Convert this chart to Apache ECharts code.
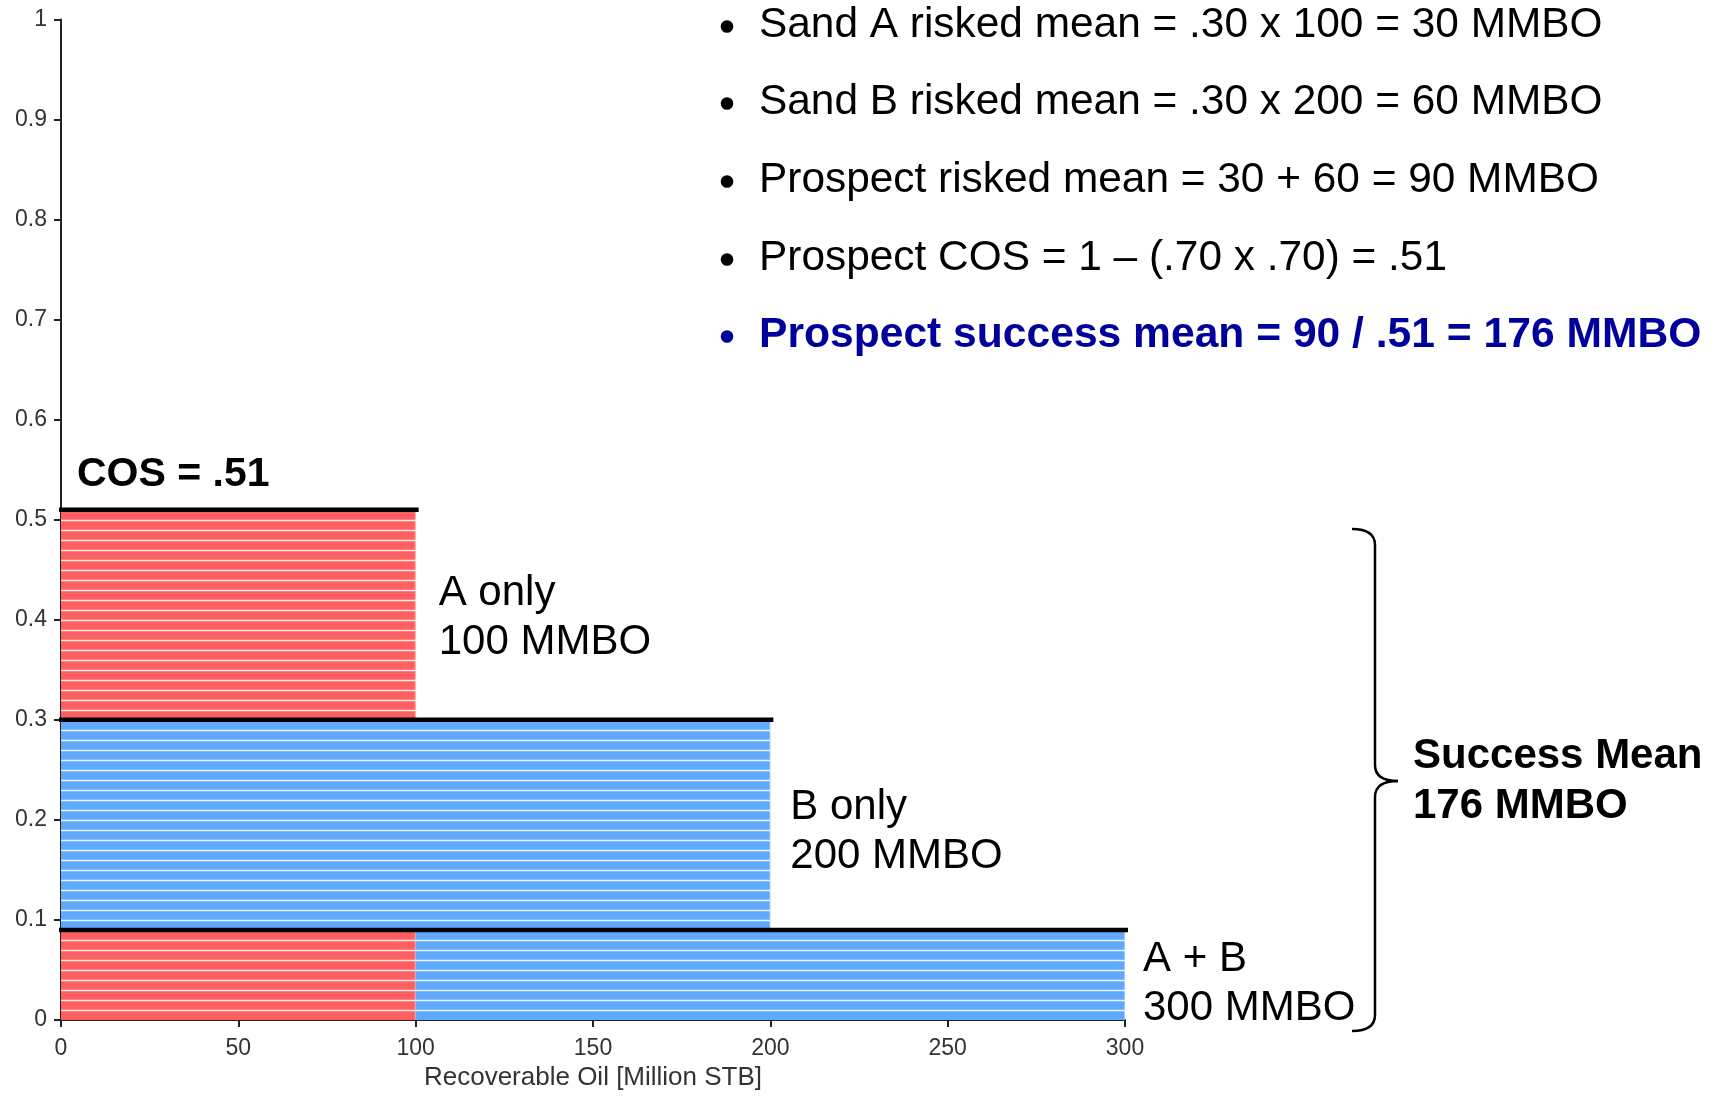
<!DOCTYPE html>
<html><head><meta charset="utf-8">
<script src="https://cdn.jsdelivr.net/npm/echarts@6/dist/echarts.min.js"></script>
<style>html,body{margin:0;padding:0;background:#fff}#c{width:1719px;height:1096px}</style>
</head><body><div id="c"></div>
<script>
// ---- data ----
const xAxisMin = 0, xAxisMax = 300, xAxisInterval = 50;
const yAxisMin = 0, yAxisMax = 1, yAxisInterval = 0.1;
const xAxisTitle = 'Recoverable Oil [Million STB]';

// colored segments (which sand contributes the volume)
const segSand   = ['A', 'B', 'A', 'B'];
const segXStart = [0, 0, 0, 100];
const segXEnd   = [100, 200, 100, 300];
const segYLow   = [0.30, 0.09, 0, 0];
const segYHigh  = [0.51, 0.30, 0.09, 0.09];

// outcomes
const outcomes          = ['A only', 'B only', 'A + B'];
const outcomeVolume     = [100, 200, 300];
const outcomeProbTop    = [0.51, 0.30, 0.09];
const outcomeProbBottom = [0.30, 0.09, 0];
const outcomeLabels     = ['A only\n100 MMBO', 'B only\n200 MMBO', 'A + B\n300 MMBO'];

const prospectCOS = 0.51;
const cosLabel = 'COS = .51';
const stripeStep = 0.01;

const bulletLines = [
  'Sand A risked mean = .30 x 100 = 30 MMBO',
  'Sand B risked mean = .30 x 200 = 60 MMBO',
  'Prospect risked mean = 30 + 60 = 90 MMBO',
  'Prospect COS = 1 \u2013 (.70 x .70) = .51',
  'Prospect success mean = 90 / .51 = 176 MMBO'
];
const braceLabel = 'Success Mean\n176 MMBO';

// ---- style ----
const sandColor = { A: '#FF5F5F', B: '#5FAAFF' };
const axisColor = '#222';
const labelDx = [23, 20, 18];
const labelDy = [3, 7.5, 8.5];

const chart = echarts.init(document.getElementById('c'), null, { renderer: 'canvas' });

const segData = segSand.map((s, i) => [segXStart[i], segXEnd[i], segYLow[i], segYHigh[i]]);
const outData = outcomes.map((o, i) => [outcomeVolume[i], outcomeProbTop[i], outcomeProbBottom[i]]);

function renderSegment(params, api) {
  const x0 = api.value(0), x1 = api.value(1), y0 = api.value(2), y1 = api.value(3);
  const sand = segSand[params.dataIndex];
  const tl = api.coord([x0, y1]), br = api.coord([x1, y0]);
  const children = [{
    type: 'rect',
    shape: { x: tl[0], y: tl[1], width: br[0] - tl[0], height: br[1] - tl[1] },
    style: { fill: sandColor[sand] }
  }];
  const kStart = Math.round(y0 / stripeStep) + 1, kEnd = Math.round(y1 / stripeStep) - 1;
  for (let k = kStart; k <= kEnd; k++) {
    const py = Math.round(api.coord([x0, k * stripeStep])[1]) + 0.5;
    children.push({
      type: 'line',
      shape: { x1: tl[0], y1: py, x2: br[0], y2: py },
      style: { stroke: 'rgba(255,255,255,0.88)', lineWidth: 1.6 }
    });
  }
  children.push({
    type: 'line',
    shape: { x1: br[0] - 0.5, y1: tl[1], x2: br[0] - 0.5, y2: br[1] },
    style: { stroke: 'rgba(255,255,255,0.35)', lineWidth: 1 }
  });
  return { type: 'group', children };
}

function renderOutcome(params, api) {
  const i = params.dataIndex;
  const vol = api.value(0), top = api.value(1), bot = api.value(2);
  const a = api.coord([0, top]), b = api.coord([vol, top]);
  const mid = api.coord([vol, (top + bot) / 2]);
  return {
    type: 'group',
    children: [
      { type: 'line', shape: { x1: a[0] - 2, y1: a[1], x2: b[0] + 3, y2: b[1] },
        style: { stroke: '#000', lineWidth: 4.5 } },
      { type: 'text', x: mid[0] + labelDx[i], y: mid[1] + labelDy[i],
        style: { text: outcomeLabels[i], font: '42px "Liberation Sans", Arial, sans-serif',
                 fill: '#000', align: 'left', verticalAlign: 'middle', lineHeight: 49 } }
    ]
  };
}

function renderCos(params, api) {
  const p = api.coord([api.value(0), api.value(1)]);
  return { type: 'text', x: p[0] + 16, y: p[1] - 35,
    style: { text: cosLabel, font: 'bold 41px "Liberation Sans", Arial, sans-serif', fill: '#000',
             align: 'left', verticalAlign: 'middle' } };
}

// graphic annotations (bullets & brace)
const bulletY = [25.5, 102.5, 180.5, 258.5, 335.5];
const graphics = [];
bulletLines.forEach((t, i) => {
  const last = i === bulletLines.length - 1;
  const col = last ? '#00009C' : '#000';
  graphics.push({ type: 'circle', shape: { cx: 727, cy: bulletY[i] + 1, r: 6.3 }, style: { fill: col } });
  graphics.push({ type: 'text', x: 759, y: bulletY[i],
    style: { text: t, font: (last ? 'bold 42.6px ' : '42.4px ') + '"Liberation Sans", Arial, sans-serif', fill: col,
             align: 'left', verticalAlign: 'middle' } });
});
const bs = { stroke: '#000', lineWidth: 2.5, fill: null };
const bx = 1375, bl = 1352, tipX = 1398, topY = 529, botY = 1031, tipY = 781;
graphics.push({ type: 'group', children: [
  { type: 'bezierCurve', shape: { x1: bl, y1: topY, cpx1: bx, cpy1: topY, x2: bx, y2: topY + 16 }, style: bs },
  { type: 'line', shape: { x1: bx, y1: topY + 16, x2: bx, y2: tipY - 16 }, style: bs },
  { type: 'bezierCurve', shape: { x1: bx, y1: tipY - 16, cpx1: bx, cpy1: tipY, x2: tipX, y2: tipY }, style: bs },
  { type: 'bezierCurve', shape: { x1: tipX, y1: tipY, cpx1: bx, cpy1: tipY, x2: bx, y2: tipY + 16 }, style: bs },
  { type: 'line', shape: { x1: bx, y1: tipY + 16, x2: bx, y2: botY - 16 }, style: bs },
  { type: 'bezierCurve', shape: { x1: bx, y1: botY - 16, cpx1: bx, cpy1: botY, x2: bl, y2: botY }, style: bs }
]});
graphics.push({ type: 'text', x: 1413, y: 781,
  style: { text: braceLabel, font: 'bold 42px "Liberation Sans", Arial, sans-serif', fill: '#000',
           align: 'left', verticalAlign: 'middle', lineHeight: 50 } });

const axisLabelStyle = { fontFamily: 'Liberation Sans', fontSize: 23, color: '#333' };

chart.setOption({
  animation: false,
  grid: { left: 61, right: 594, top: 19.5, bottom: 76, containLabel: false },
  xAxis: {
    type: 'value', min: xAxisMin, max: xAxisMax, interval: xAxisInterval,
    name: xAxisTitle, nameLocation: 'middle', nameGap: 43,
    nameTextStyle: { fontFamily: 'Liberation Sans', fontSize: 26, color: '#333' },
    splitLine: { show: false },
    axisLine: { show: true, lineStyle: { color: axisColor, width: 2 } },
    axisTick: { show: true, length: 7, lineStyle: { color: axisColor, width: 2 } },
    axisLabel: Object.assign({ margin: 17 }, axisLabelStyle)
  },
  yAxis: {
    type: 'value', min: yAxisMin, max: yAxisMax, interval: yAxisInterval,
    splitLine: { show: false },
    axisLine: { show: true, lineStyle: { color: axisColor, width: 2 } },
    axisTick: { show: true, length: 7, lineStyle: { color: axisColor, width: 2 } },
    axisLabel: Object.assign({ margin: 14 }, axisLabelStyle)
  },
  series: [
    { type: 'custom', name: 'segments', renderItem: renderSegment, data: segData, clip: false, z: 2 },
    { type: 'custom', name: 'outcomes', renderItem: renderOutcome, data: outData, clip: false, z: 3 },
    { type: 'custom', name: 'cos', renderItem: renderCos, data: [[0, prospectCOS]], clip: false, z: 3 }
  ],
  graphic: graphics
});
</script></body></html>
